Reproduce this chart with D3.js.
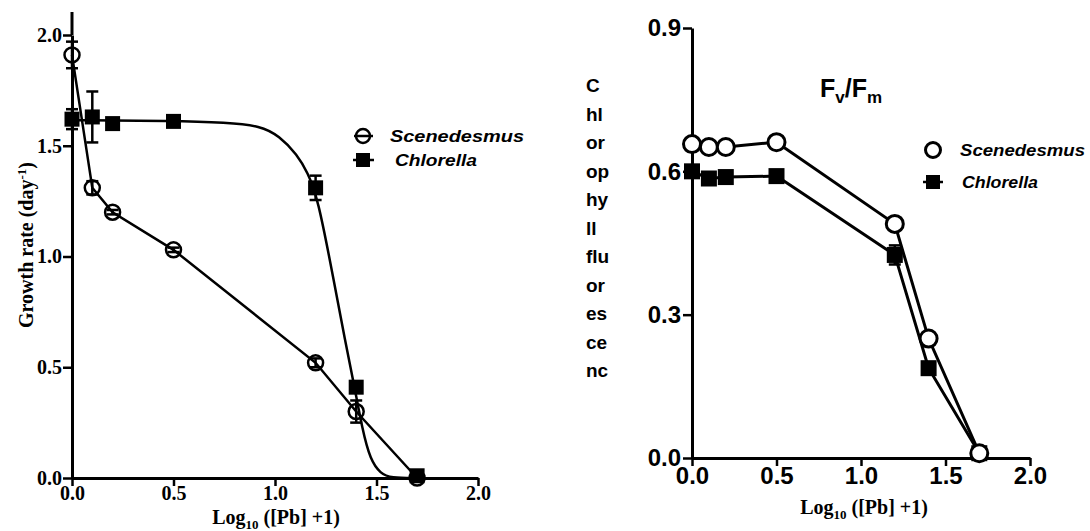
<!DOCTYPE html>
<html><head><meta charset="utf-8">
<script src="https://cdn.jsdelivr.net/npm/d3@7"></script>
<style>body{margin:0;background:#fff}</style>
</head><body>
<svg id="chart" width="1090" height="531"></svg>
<script>
// ---- data ----
const xVals = [0, 0.1, 0.2, 0.5, 1.2, 1.4, 1.7];
// Left panel: growth rate (day^-1)
const growthScen = [1.91, 1.31, 1.20, 1.03, 0.52, 0.30, 0.00];
const growthScenErr = [0.06, 0.03, 0.01, 0.01, 0.02, 0.05, 0];
const growthChl = [1.62, 1.63, 1.60, 1.61, 1.31, 0.41, 0.01];
const growthChlErr = [0.045, 0.115, 0.01, 0.01, 0.055, 0.02, 0];
// fitted curve for Chlorella
const chlFitX = [0, 0.5, 0.76, 0.93, 1.02, 1.11, 1.16, 1.21, 1.29, 1.345, 1.39, 1.43, 1.47, 1.52, 1.57, 1.7];
const chlFitY = [1.615, 1.613, 1.605, 1.59, 1.545, 1.46, 1.38, 1.27, 0.89, 0.62, 0.42, 0.22, 0.08, 0.02, 0.0, 0.0];
// Right panel: Fv/Fm
const fvfmScen = [0.657, 0.651, 0.651, 0.661, 0.49, 0.25, 0.01];
const fvfmChl = [0.60, 0.585, 0.588, 0.59, 0.425, 0.188, 0.01];
const fvfmChlErr = [0, 0, 0, 0, 0.02, 0, 0];
const xTicks = [0, 0.5, 1.0, 1.5, 2.0];
const yTicksLeft = [0, 0.5, 1.0, 1.5, 2.0];
const yTicksRight = [0, 0.3, 0.6, 0.9];
const seriesNames = ["Scenedesmus", "Chlorella"];
const yLabelRight = ["C", "hl", "or", "op", "hy", "ll", "flu", "or", "es", "ce", "nc"];

const svg = d3.select("#chart");
const fmt = d3.format(".1f");

const serif = "'Liberation Serif','Times New Roman',serif";
const sans = "'Liberation Sans',Arial,sans-serif";

function styleAxis(a, family, size) {
  a.attr("font-family", null).attr("font-size", null);
  a.select(".domain").attr("stroke", "#000").attr("stroke-width", 3);
  a.selectAll(".tick line").attr("stroke", "#000").attr("stroke-width", 2.5);
  a.selectAll(".tick text").attr("fill", "#000").attr("font-family", family)
    .attr("font-weight", "bold").attr("font-size", size)
    .style("font-family", family).style("font-weight", "bold").style("font-size", size + "px");
}

// ---------- LEFT PANEL ----------
const xL = d3.scaleLinear().domain([0, 2]).range([72, 478]);
const yL = d3.scaleLinear().domain([0, 2]).range([478, 35]);
const gL = svg.append("g");

const axL = gL.append("g").attr("transform", `translate(0,${yL(0)})`)
  .call(d3.axisBottom(xL).tickValues(xTicks).tickFormat(fmt).tickSize(8).tickSizeOuter(0).tickPadding(0));
const ayL = gL.append("g").attr("transform", `translate(${xL(0)},0)`)
  .call(d3.axisLeft(yL).tickValues(yTicksLeft).tickFormat(fmt).tickSize(9).tickSizeOuter(0).tickPadding(1));
styleAxis(axL, serif, 20);
styleAxis(ayL, serif, 20);
gL.append("line").attr("x1", xL(0)).attr("x2", xL(0)).attr("y1", 12).attr("y2", yL(2))
  .attr("stroke", "#000").attr("stroke-width", 3);

// Chlorella fitted curve
const fitData = chlFitX.map((x, i) => [x, chlFitY[i]]);
gL.append("path").datum(fitData)
  .attr("d", d3.line().x(d => xL(d[0])).y(d => yL(d[1])).curve(d3.curveBasis))
  .attr("fill", "none").attr("stroke", "#000").attr("stroke-width", 2.5);
// Scenedesmus polyline
gL.append("path").datum(xVals.map((x, i) => [x, growthScen[i]]))
  .attr("d", d3.line().x(d => xL(d[0])).y(d => yL(d[1])))
  .attr("fill", "none").attr("stroke", "#000").attr("stroke-width", 2.5);

function errBars(g, xs, ys, es, xS, yS, cap) {
  xs.forEach((x, i) => {
    if (!es[i]) return;
    const cx = xS(x), y1 = yS(ys[i] - es[i]), y2 = yS(ys[i] + es[i]);
    g.append("line").attr("x1", cx).attr("x2", cx).attr("y1", y1).attr("y2", y2).attr("stroke", "#000").attr("stroke-width", 2.5);
    [y1, y2].forEach(yy => g.append("line").attr("x1", cx - cap).attr("x2", cx + cap).attr("y1", yy).attr("y2", yy)
      .attr("stroke", "#000").attr("stroke-width", 2.5));
  });
}
errBars(gL, xVals, growthScen, growthScenErr, xL, yL, 6);
errBars(gL, xVals, growthChl, growthChlErr, xL, yL, 6);

gL.selectAll(".sqL").data(xVals).enter().append("rect")
  .attr("x", (d) => xL(d) - 7.5).attr("y", (d, i) => yL(growthChl[i]) - 7.5)
  .attr("width", 15).attr("height", 15).attr("fill", "#000");
gL.selectAll(".ciL").data(xVals).enter().append("circle")
  .attr("cx", d => xL(d)).attr("cy", (d, i) => yL(growthScen[i])).attr("r", 7.5)
  .attr("fill", "none").attr("stroke", "#000").attr("stroke-width", 2.5);

const xlab = gL.append("text").attr("x", 276).attr("y", 524).attr("text-anchor", "middle")
  .style("font-family", serif).style("font-weight", "bold").style("font-size", "20px").attr("fill", "#000");
xlab.append("tspan").text("Log");
xlab.append("tspan").text("10").attr("dy", 5).style("font-size", "13px");
xlab.append("tspan").text(" ([Pb] +1)").attr("dy", -5);

const ylab = gL.append("text").attr("transform", "translate(33,245) rotate(-90)").attr("text-anchor", "middle")
  .style("font-family", serif).style("font-weight", "bold").style("font-size", "20px").attr("fill", "#000");
ylab.append("tspan").text("Growth rate (day");
ylab.append("tspan").text("-1").attr("dy", -7).style("font-size", "13px");
ylab.append("tspan").text(")").attr("dy", 7);

const lgL = gL.append("g");
lgL.append("line").attr("x1", 354).attr("x2", 373).attr("y1", 136).attr("y2", 136).attr("stroke", "#000").attr("stroke-width", 2.5);
lgL.append("circle").attr("cx", 363).attr("cy", 136).attr("r", 7).attr("fill", "none").attr("stroke", "#000").attr("stroke-width", 2.5);
lgL.append("line").attr("x1", 353).attr("x2", 374).attr("y1", 160).attr("y2", 160).attr("stroke", "#000").attr("stroke-width", 2.5);
lgL.append("rect").attr("x", 356).attr("y", 153).attr("width", 14).attr("height", 14).attr("fill", "#000");
lgL.append("text").attr("x", 390).attr("y", 142).text(seriesNames[0]).attr("textLength", 134).attr("lengthAdjust", "spacingAndGlyphs")
  .style("font-family", sans).style("font-weight", "bold").style("font-style", "italic").style("font-size", "17px");
lgL.append("text").attr("x", 395).attr("y", 166).text(seriesNames[1]).attr("textLength", 82).attr("lengthAdjust", "spacingAndGlyphs")
  .style("font-family", sans).style("font-weight", "bold").style("font-style", "italic").style("font-size", "17px");

// ---------- RIGHT PANEL ----------
const xR = d3.scaleLinear().domain([0, 2]).range([692, 1030]);
const yR = d3.scaleLinear().domain([0, 0.9]).range([458, 28]);
const gR = svg.append("g");

const axR = gR.append("g").attr("transform", `translate(0,${yR(0)})`)
  .call(d3.axisBottom(xR).tickValues(xTicks).tickFormat(fmt).tickSize(8).tickSizeOuter(0).tickPadding(1));
const ayR = gR.append("g").attr("transform", `translate(${xR(0)},0)`)
  .call(d3.axisLeft(yR).tickValues(yTicksRight).tickFormat(fmt).tickSize(9).tickSizeOuter(0).tickPadding(2));
styleAxis(axR, sans, 24);
styleAxis(ayR, sans, 24);

gR.append("path").datum(xVals.map((x, i) => [x, fvfmChl[i]]))
  .attr("d", d3.line().x(d => xR(d[0])).y(d => yR(d[1])))
  .attr("fill", "none").attr("stroke", "#000").attr("stroke-width", 3);
gR.append("path").datum(xVals.map((x, i) => [x, fvfmScen[i]]))
  .attr("d", d3.line().x(d => xR(d[0])).y(d => yR(d[1])))
  .attr("fill", "none").attr("stroke", "#000").attr("stroke-width", 3);
errBars(gR, xVals, fvfmChl, fvfmChlErr, xR, yR, 6);
gR.selectAll(".sqR").data(xVals).enter().append("rect")
  .attr("x", d => xR(d) - 8).attr("y", (d, i) => yR(fvfmChl[i]) - 8)
  .attr("width", 16).attr("height", 16).attr("fill", "#000");
gR.selectAll(".ciR").data(xVals).enter().append("circle")
  .attr("cx", d => xR(d)).attr("cy", (d, i) => yR(fvfmScen[i])).attr("r", 8.5)
  .attr("fill", "#fff").attr("stroke", "#000").attr("stroke-width", 3);

const ttl = gR.append("text").attr("x", 820).attr("y", 97)
  .style("font-family", sans).style("font-size", "25px").style("font-weight", "bold").attr("fill", "#000");
ttl.append("tspan").text("F");
ttl.append("tspan").text("v").attr("dy", 6).style("font-size", "17px");
ttl.append("tspan").text("/F").attr("dy", -6);
ttl.append("tspan").text("m").attr("dy", 6).style("font-size", "17px");

gR.append("g").selectAll("text").data(yLabelRight).enter().append("text")
  .attr("x", 586).attr("y", (d, i) => 92 + i * 28.5).text(d => d)
  .style("font-family", sans).style("font-weight", "bold").style("font-size", "19px").attr("fill", "#000");

const rxl = gR.append("text").attr("x", 864).attr("y", 514).attr("text-anchor", "middle")
  .style("font-family", serif).style("font-weight", "bold").style("font-size", "20px").attr("fill", "#000");
rxl.append("tspan").text("Log");
rxl.append("tspan").text("10").attr("dy", 5).style("font-size", "13px");
rxl.append("tspan").text(" ([Pb] +1)").attr("dy", -5);

const lgR = gR.append("g");
lgR.append("circle").attr("cx", 933).attr("cy", 150).attr("r", 7.5).attr("fill", "#fff").attr("stroke", "#000").attr("stroke-width", 3);
lgR.append("line").attr("x1", 923).attr("x2", 943).attr("y1", 182).attr("y2", 182).attr("stroke", "#000").attr("stroke-width", 2.5);
lgR.append("rect").attr("x", 926).attr("y", 175).attr("width", 14).attr("height", 14).attr("fill", "#000");
lgR.append("text").attr("x", 960).attr("y", 156).text(seriesNames[0]).attr("textLength", 125).attr("lengthAdjust", "spacingAndGlyphs")
  .style("font-family", sans).style("font-weight", "bold").style("font-style", "italic").style("font-size", "16px");
lgR.append("text").attr("x", 962).attr("y", 188).text(seriesNames[1]).attr("textLength", 76).attr("lengthAdjust", "spacingAndGlyphs")
  .style("font-family", sans).style("font-weight", "bold").style("font-style", "italic").style("font-size", "16px");
</script>
</body></html>
